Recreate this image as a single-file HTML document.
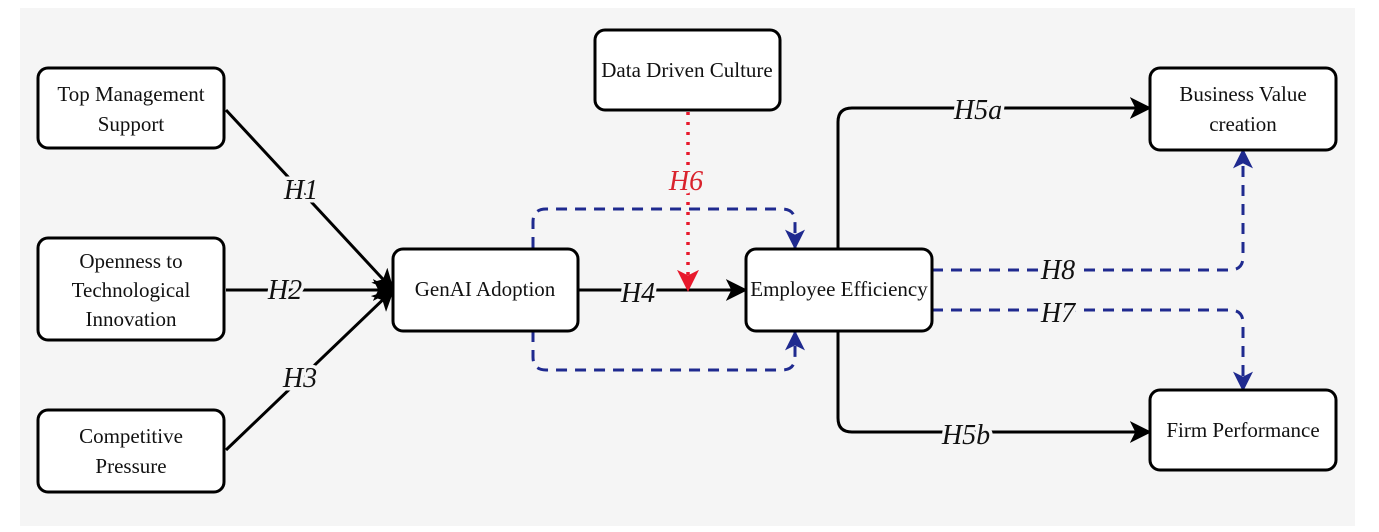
<!DOCTYPE html>
<html><head><meta charset="utf-8"><style>
html,body{margin:0;padding:0;background:#fff;width:1379px;height:532px;overflow:hidden}
svg text{font-family:"Liberation Serif",serif}
.lbl{paint-order:stroke;stroke:#f5f5f5;stroke-width:7px;stroke-linejoin:round}
</style></head><body>
<svg width="1379" height="532" viewBox="0 0 1379 532">
<defs>
<marker id="abk" viewBox="0 0 12 12" refX="11" refY="6" markerWidth="22" markerHeight="22" orient="auto" markerUnits="userSpaceOnUse"><path d="M0,0 L12,6 L0,12 L3,6 Z" fill="#000"/></marker>
<marker id="abl" viewBox="0 0 12 12" refX="11" refY="6" markerWidth="20" markerHeight="20" orient="auto" markerUnits="userSpaceOnUse"><path d="M0,0 L12,6 L0,12 L3,6 Z" fill="#1f2a8f"/></marker>
<marker id="ar" viewBox="0 0 12 12" refX="11" refY="6" markerWidth="22" markerHeight="22" orient="auto" markerUnits="userSpaceOnUse"><path d="M0,0 L12,6 L0,12 L3,6 Z" fill="#e8192c"/></marker>
</defs>
<rect x="20" y="8" width="1335" height="518" fill="#f5f5f5"/>

<g fill="none" stroke="#000" stroke-width="3">
<line x1="226" y1="110" x2="393" y2="290" marker-end="url(#abk)"/>
<line x1="226" y1="290" x2="393" y2="290" marker-end="url(#abk)"/>
<line x1="226" y1="450" x2="393" y2="290" marker-end="url(#abk)"/>
<line x1="578" y1="290" x2="746" y2="290" marker-end="url(#abk)"/>
<path d="M838,250 V122 Q838,108 852,108 H1150" marker-end="url(#abk)"/>
<path d="M838,330 V418 Q838,432 852,432 H1150" marker-end="url(#abk)"/>
</g>
<g fill="none" stroke="#1f2a8f" stroke-width="3" stroke-dasharray="11,8">
<path d="M533,248 V222 Q533,209 546,209 H782 Q795,209 795,222 V248" marker-end="url(#abl)"/>
<path d="M533,331 V357 Q533,370 546,370 H782 Q795,370 795,357 V332" marker-end="url(#abl)"/>
<path d="M932,270 H1230 Q1243,270 1243,257 V150" marker-end="url(#abl)"/>
<path d="M932,310 H1230 Q1243,310 1243,323 V390" marker-end="url(#abl)"/>
</g>
<line x1="688" y1="112" x2="688" y2="290" stroke="#e8192c" stroke-width="3.5" stroke-dasharray="3,7" marker-end="url(#ar)"/>

<g fill="#fff" stroke="#000" stroke-width="3">
<rect x="38" y="68" width="186" height="80" rx="10"/>
<rect x="38" y="238" width="186" height="102" rx="10"/>
<rect x="38" y="410" width="186" height="82" rx="10"/>
<rect x="393" y="249" width="185" height="82" rx="10"/>
<rect x="595" y="30" width="185" height="80" rx="10"/>
<rect x="746" y="249" width="186" height="82" rx="10"/>
<rect x="1150" y="68" width="186" height="82" rx="10"/>
<rect x="1150" y="390" width="186" height="80" rx="10"/>
</g>
<g font-size="21" fill="#111" text-anchor="middle">
<text x="131" y="101">Top Management</text><text x="131" y="131">Support</text>
<text x="131" y="268">Openness to</text><text x="131" y="297">Technological</text><text x="131" y="326">Innovation</text>
<text x="131" y="443">Competitive</text><text x="131" y="473">Pressure</text>
<text x="485" y="296">GenAI Adoption</text>
<text x="687" y="77">Data Driven Culture</text>
<text x="839" y="296">Employee Efficiency</text>
<text x="1243" y="101">Business Value</text><text x="1243" y="131">creation</text>
<text x="1243" y="437">Firm Performance</text>
</g>
<g font-size="28" font-style="italic" fill="#111" text-anchor="middle" class="lbl">
<text class="lbl" x="301" y="199">H1</text>
<text class="lbl" x="285" y="299">H2</text>
<text class="lbl" x="300" y="387">H3</text>
<text class="lbl" x="638" y="302">H4</text>
<text class="lbl" x="686" y="190" fill="#d9222c">H6</text>
<text class="lbl" x="978" y="119">H5a</text>
<text class="lbl" x="966" y="444">H5b</text>
<text class="lbl" x="1058" y="279">H8</text>
<text class="lbl" x="1058" y="322">H7</text>
</g>
</svg>
</body></html>
